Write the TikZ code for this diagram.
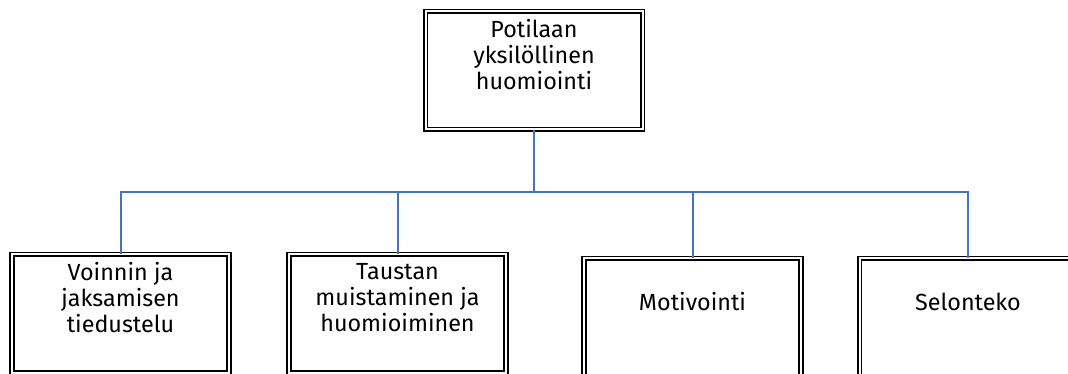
\documentclass[tikz,border=0pt]{standalone}
\usepackage{fontspec}
\setmainfont{Fira Sans}
\usepackage{xcolor}
\usepackage{tikz}
\definecolor{linkblue}{HTML}{4472C4}

\tikzset{
  box/.style={rectangle, draw=black, double=white, line width=1.4pt, double distance=1.5pt,
    minimum width=162.75pt, minimum height=88.5pt, inner sep=0pt},
  txt/.style={align=center, font=\fontsize{17.5}{19.5}\selectfont, yshift=12pt},
  conn/.style={draw=linkblue, line width=1.5pt}
}

\begin{document}
\begin{tikzpicture}[x=0.75pt, y=-0.75pt]
        \useasboundingbox (0,0) rectangle (1068,374);
        \node[box] (top) at (534,70.5) {};
        \node[box] (voinnin) at (120.5,313.5) {};
        \node[box] (taustan) at (397.5,313.5) {};
        \node[box] (motiv) at (692.5,317.5) {};
        \node[box] (selon) at (968,317.5) {};
%
        \node[txt] (toptxt) at (top.center) {Potilaan\\yksilöllinen\\huomiointi};
        \node[txt] (voinnintxt) at (voinnin.center) {Voinnin ja\\jaksamisen\\tiedustelu};
        \node[txt] (taustantxt) at (taustan.center) {Taustan\\muistaminen ja\\huomioiminen};
        \node[txt] (motivtxt) at (motiv.center) {Motivointi};
        \node[txt] (selontxt) at (selon.center) {Selonteko};
%
        \coordinate (bus) at (534,192);
        \foreach \b in {voinnin,taustan,motiv,selon}
            \path[conn] (top.south) -- (bus) -| (\b.north);
\end{tikzpicture}
\end{document}
